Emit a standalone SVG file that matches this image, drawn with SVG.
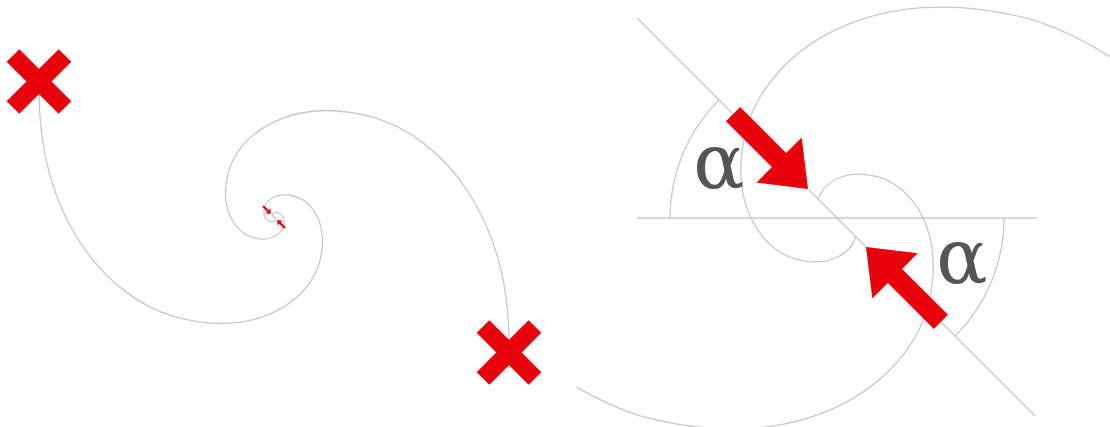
<svg xmlns="http://www.w3.org/2000/svg" width="1110" height="427" viewBox="0 0 1110 427">
<defs>
<style>
.sp{fill:none;stroke:#c8c8c8;stroke-width:1.3}
.ln{fill:none;stroke:#c8c8c8;stroke-width:1.3}
.x{stroke:#e8000b;stroke-width:18;stroke-linecap:butt}
.ar{fill:#e8000b}
.al{font-family:"DejaVu Serif",serif;font-size:76px;fill:#555555;text-anchor:middle}
</style>
<polygon id="arrow" points="-147,-10 -82,-10 -82,-32 -41,0 -82,32 -82,10 -147,10"/>
</defs>
<rect width="1110" height="427" fill="#ffffff"/>
<g id="connectors">
<g id="left-spiral">
<path class="sp" vector-effect="non-scaling-stroke" transform="translate(274,217) rotate(45) scale(2.777)" d="M -1,0 L 1,0 C 1.30090,0.52813 1.15834,1.53332 0,2.19328 C -1.15834,2.85324 -3.36300,2.54056 -4.81048,0 C -6.25795,-2.54056 -5.57217,-7.37601 0,-10.55072 C 5.57215,-13.72543 16.17763,-12.22132 23.14069,0 C 30.10372,12.22129 26.80479,35.48208 0,50.75404 C -22.3001,62.9568 -60.5469,60.6466 -94.333,25.276"/>
<path class="sp" vector-effect="non-scaling-stroke" transform="translate(274,217) rotate(225) scale(2.777)" d="M 1,0 C 1.30090,0.52813 1.15834,1.53332 0,2.19328 C -1.15834,2.85324 -3.36300,2.54056 -4.81048,0 C -6.25795,-2.54056 -5.57217,-7.37601 0,-10.55072 C 5.57215,-13.72543 16.17763,-12.22132 23.14069,0 C 30.10372,12.22129 26.80479,35.48208 0,50.75404 C -22.3001,62.9568 -60.5469,60.6466 -94.333,25.276"/>
</g>
<g id="right-lines">
<line class="ln" x1="637" y1="218" x2="1037" y2="218"/>
<line class="ln" x1="637" y1="18" x2="1035" y2="416"/>
<path class="ln" d="M 670,218 A 167,167 0 0 1 718.9,99.9"/>
<path class="ln" d="M 1004,218 A 167,167 0 0 1 955.1,336.1"/>
<path class="sp" vector-effect="non-scaling-stroke" transform="translate(837,218) rotate(45) scale(26.5)" d="M 1,0 C 1.30090,0.52813 1.15834,1.53332 0,2.19328 C -1.15834,2.85324 -3.36300,2.54056 -4.81048,0 C -6.25795,-2.54056 -5.57217,-7.37601 0,-10.55072 C 0.92105,-11.01290 1.96219,-11.37936 3.11262,-11.61650"/>
<path class="sp" vector-effect="non-scaling-stroke" transform="translate(837,218) rotate(225) scale(26.5)" d="M 1,0 C 1.30090,0.52813 1.15834,1.53332 0,2.19328 C -1.15834,2.85324 -3.36300,2.54056 -4.81048,0 C -6.25795,-2.54056 -5.57217,-7.37601 0,-10.55072 C 0.73675,-10.91994 1.55035,-11.22857 2.43580,-11.45950"/>
</g>
</g>
<g id="left-arrows" class="ar">
<use href="#arrow" transform="translate(274,217) rotate(45) scale(0.1048)"/>
<use href="#arrow" transform="translate(274,217) rotate(225) scale(0.1048)"/>
</g>
<g id="start-mark" class="x">
<line x1="13" y1="55.5" x2="65" y2="107.5"/>
<line x1="13" y1="107.5" x2="65" y2="55.5"/>
</g>
<g id="end-mark" class="x">
<line x1="483" y1="326.5" x2="535" y2="378.5"/>
<line x1="483" y1="378.5" x2="535" y2="326.5"/>
</g>
<g id="right-arrows" class="ar">
<use href="#arrow" transform="translate(837,218) rotate(45)"/>
<use href="#arrow" transform="translate(837,218) rotate(225)"/>
</g>
<g id="alpha-labels">
<text class="al" x="719" y="188">α</text>
<text class="al" x="962" y="283">α</text>
</g>
</svg>
